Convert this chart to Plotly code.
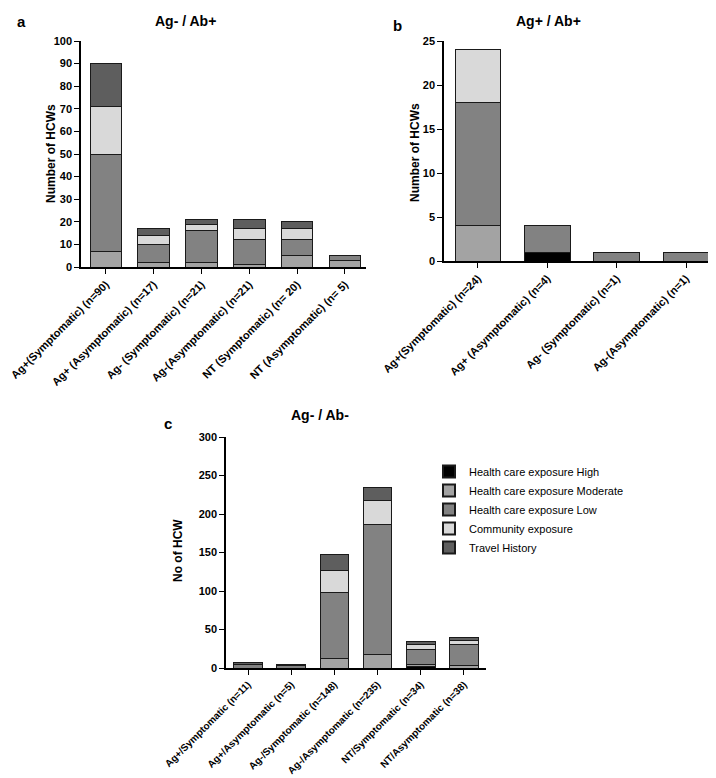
import plotly.graph_objects as go

# -- categories (x tick labels) for each panel
cat_a = ['Ag+(Symptomatic) (n=90)', 'Ag+ (Asymptomatic) (n=17)', 'Ag- (Symptomatic) (n=21)',
         'Ag-(Asymptomatic) (n=21)', 'NT (Symptomatic) (n= 20)', 'NT (Asymptomatic) (n= 5)']
cat_b = ['Ag+(Symptomatic) (n=24)', 'Ag+ (Asymptomatic) (n=4)', 'Ag- (Symptomatic) (n=1)',
         'Ag-(Asymptomatic) (n=1)']
cat_c = ['Ag+/Symptomatic (n=11)', 'Ag+/Asymptomatic (n=5)', 'Ag-/Symptomatic (n=148)',
         'Ag-/Asymptomatic (n=235)', 'NT/Symptomatic (n=34)', 'NT/Asymptomatic (n=38)']

series_names = ['Health care exposure High', 'Health care exposure Moderate',
                'Health care exposure Low', 'Community exposure', 'Travel History']
series_colors = ['#000000', '#a3a3a3', '#828282', '#d9d9d9', '#5e5e5e']

# -- panel a : Ag- / Ab+
high_a = [0, 0, 0, 0, 0, 0]
moderate_a = [7, 2, 2, 1, 5, 3]
low_a = [43, 8, 14, 11, 7, 2]
community_a = [21, 4, 3, 5, 5, 0]
travel_a = [19, 3, 2, 4, 3, 0]

# -- panel b : Ag+ / Ab+
high_b = [0, 1, 0, 0]
moderate_b = [4, 0, 0, 0]
low_b = [14, 3, 1, 1]
community_b = [6, 0, 0, 0]
travel_b = [0, 0, 0, 0]

# -- panel c : Ag- / Ab-
high_c = [0, 0, 0, 0, 2, 0]
moderate_c = [0, 0, 12, 17, 3, 3]
low_c = [5, 3, 86, 169, 19, 27]
community_c = [0, 0, 29, 31, 7, 6]
travel_c = [2, 2, 21, 18, 3, 4]

W, H = 716, 778
FONT = 'Liberation Sans, Arial, sans-serif'

fig = go.Figure()


def add_panel(idx, cats, values, show_legend):
    xa = 'x' if idx == 1 else 'x%d' % idx
    ya = 'y' if idx == 1 else 'y%d' % idx
    for name, color, vals in zip(series_names, series_colors, values):
        fig.add_trace(go.Bar(x=cats, y=vals, name=name, marker_color=color,
                             marker_line_color='#1a1a1a', marker_line_width=1,
                             xaxis=xa, yaxis=ya, showlegend=show_legend,
                             legendgroup=name))


add_panel(1, cat_a, [high_a, moderate_a, low_a, community_a, travel_a], False)
add_panel(2, cat_b, [high_b, moderate_b, low_b, community_b, travel_b], False)
add_panel(3, cat_c, [high_c, moderate_c, low_c, community_c, travel_c], True)


def px_x(a, b):
    return [a / W, b / W]


def px_y(top, bottom):
    return [1 - bottom / H, 1 - top / H]


def tfont(size):
    return dict(family=FONT, size=size, color='black', weight='bold')


axcommon = dict(showline=True, linecolor='black', linewidth=1.5, ticks='outside',
                ticklen=5, tickcolor='black', showgrid=False, automargin=False)

fig.update_layout(
    width=W, height=H,
    margin=dict(l=0, r=0, t=0, b=0),
    paper_bgcolor='white', plot_bgcolor='white',
    barmode='stack', bargap=0.34,
    font=dict(family=FONT, color='black'),
    xaxis=dict(domain=px_x(73, 358), range=[-0.52, 5.44], anchor='y', tickangle=-45,
               tickfont=tfont(11), **axcommon),
    yaxis=dict(domain=px_y(33, 259), range=[0, 100], dtick=10, anchor='x', zeroline=False,
               tickfont=tfont(11), **axcommon),
    xaxis2=dict(domain=px_x(436, 712), range=[-0.49, 3.49], anchor='y2', tickangle=-45,
                tickfont=tfont(11), **axcommon),
    yaxis2=dict(domain=px_y(33, 253), range=[0, 25], dtick=5, anchor='x2', zeroline=False,
                tickfont=tfont(11), **axcommon),
    xaxis3=dict(domain=px_x(218, 478), range=[-0.51, 5.51], anchor='y3', tickangle=-45,
                tickfont=tfont(10), **axcommon),
    yaxis3=dict(domain=px_y(429, 660), range=[0, 300], dtick=50, anchor='x3', zeroline=False,
                tickfont=tfont(11), **axcommon),
    legend=dict(x=421 / W, y=1 - 449 / H, xanchor='left', yanchor='top',
                traceorder='normal', font=dict(family=FONT, size=11, color='black'),
                itemsizing='constant', tracegroupgap=0, bgcolor='rgba(0,0,0,0)'),
)

# -- panel titles, letters and y axis titles
texts = [
    ('<b>a</b>', 13, 14, 0, 15),
    ('<b>Ag- / Ab+</b>', 177, 13, 0, 14),
    ('<b>b</b>', 390, 17, 0, 15),
    ('<b>Ag+ / Ab+</b>', 540, 13, 0, 14),
    ('<b>c</b>', 160, 415, 0, 15),
    ('<b>Ag- / Ab-</b>', 312, 407, 0, 14),
    ('<b>Number of HCWs</b>', 43, 146, -90, 12),
    ('<b>Number of HCWs</b>', 407, 145, -90, 12),
    ('<b>No of HCW</b>', 170, 543, -90, 12),
]
for t, x, y, ang, size in texts:
    fig.add_annotation(text=t, x=x / W, y=1 - y / H, xref='paper', yref='paper',
                       showarrow=False, textangle=ang, xanchor='center', yanchor='middle',
                       font=dict(family=FONT, size=size, color='black'))

fig.write_html("out.html")
